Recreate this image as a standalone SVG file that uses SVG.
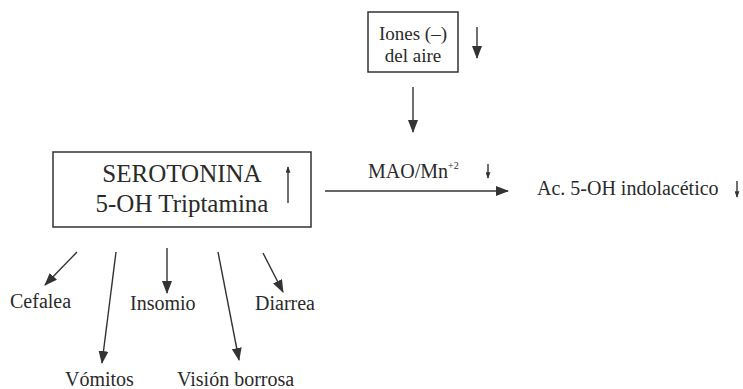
<svg xmlns="http://www.w3.org/2000/svg" width="743" height="389" viewBox="0 0 743 389">
<defs>
<style>
text{font-family:"Liberation Serif","Times New Roman",serif;fill:#2a2a2a;font-size:20px}
.big{font-size:25px}
.ion{font-size:19px}
.box{fill:none;stroke:#333;stroke-width:1.5}
.ln{stroke:#333;stroke-width:1.4;fill:none}
.arr{marker-end:url(#ah)}
.sm{marker-end:url(#ahs)}
</style>
<marker id="ah" viewBox="0 0 13 10" refX="12" refY="5" markerWidth="13" markerHeight="10" markerUnits="userSpaceOnUse" orient="auto"><path d="M0,0 L13,5 L0,10 Z" fill="#333"/></marker>
<marker id="ahs" viewBox="0 0 8 6" refX="7" refY="3" markerWidth="7" markerHeight="5" markerUnits="userSpaceOnUse" orient="auto"><path d="M0,0 L8,3 L0,6 Z" fill="#333"/></marker>
</defs>
<rect width="743" height="389" fill="#fff"/>
<g id="iones">
<rect class="box" x="368" y="12" width="90" height="60"/>
<text class="ion" x="413" y="40" text-anchor="middle">Iones (–)</text>
<text class="ion" x="413" y="62" text-anchor="middle">del aire</text>
</g>
<g id="serotonina">
<rect class="box" x="53" y="152" width="258" height="75"/>
<text class="big" x="182" y="182" text-anchor="middle">SEROTONINA</text>
<text class="big" x="182" y="212" text-anchor="middle">5-OH Triptamina</text>
</g>
<g id="mao"><text x="368" y="178">MAO/Mn<tspan style="font-size:10px" dy="-9">+2</tspan></text></g>
<g id="acido"><text x="537" y="195">Ac. 5-OH indolacético</text></g>
<g id="cefalea"><text x="10" y="308">Cefalea</text></g>
<g id="insomio"><text x="130" y="310">Insomio</text></g>
<g id="diarrea"><text x="255" y="310">Diarrea</text></g>
<g id="vomitos"><text x="65" y="386">Vómitos</text></g>
<g id="vision"><text x="177" y="386">Visión borrosa</text></g>
<g id="connectors">
<line class="ln arr" x1="477" y1="27" x2="477" y2="58"/>
<line class="ln arr" x1="413" y1="87" x2="413" y2="132"/>
<line class="ln sm" x1="288" y1="203" x2="288" y2="167"/>
<line class="ln arr" x1="325" y1="191" x2="508" y2="191"/>
<line class="ln sm" x1="488" y1="164" x2="488" y2="178"/>
<line class="ln sm" x1="737" y1="181" x2="737" y2="197"/>
<line class="ln arr" x1="77" y1="252" x2="45" y2="285"/>
<line class="ln arr" x1="116" y1="252" x2="102" y2="363"/>
<line class="ln arr" x1="167" y1="248" x2="167" y2="293"/>
<line class="ln arr" x1="218" y1="252" x2="239" y2="360"/>
<line class="ln arr" x1="263" y1="253" x2="283" y2="292"/>
</g>
</svg>
